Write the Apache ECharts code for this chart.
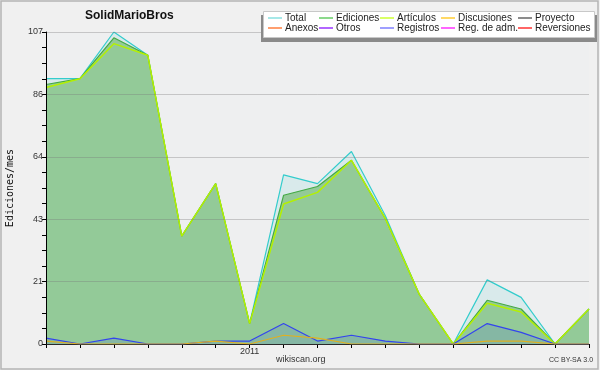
<!DOCTYPE html>
<html><head><meta charset="utf-8">
<script src="https://cdn.jsdelivr.net/npm/echarts@6/dist/echarts.min.js"></script>
<style>html,body{margin:0;padding:0;background:#f0f0f0}#c{width:600px;height:370px}</style>
</head><body><div id="c"></div>
<script>
const categories = ['2010-07','2010-08','2010-09','2010-10','2010-11','2010-12','2011-01','2011-02','2011-03','2011-04','2011-05','2011-06','2011-07','2011-08','2011-09','2011-10','2011-11'];
const total       = [91, 91, 107, 99, 37, 55, 7, 58, 55, 66, 44, 17, 0, 22, 16, 0, 12];
const ediciones   = [89, 91, 105, 99, 37, 55, 7, 51, 54, 63, 43, 17, 0, 15, 12, 0, 12];
const articulos   = [88, 91, 103, 99, 37, 55, 7, 48, 52, 63, 43, 17, 0, 14, 11, 0, 12];
const discusiones = [1, 0, 0, 0, 0, 1, 0, 3, 2, 0, 0, 0, 0, 1, 1, 0, 0];
const registros   = [2, 0, 2, 0, 0, 1, 1, 7, 1, 3, 1, 0, 0, 7, 4, 0, 0];
const yTickLabels = ['0', '21', '43', '64', '86', '107'];
const xTickLabels = {'2011-01': '2011'};
const legendRow1 = ['Total', 'Ediciones', 'Artículos', 'Discusiones', 'Proyecto'];
const legendRow2 = ['Anexos', 'Otros', 'Registros', 'Reg. de adm.', 'Reversiones'];
const yMax = 107;

const legendColors = {
  'Total': '#88e0e0', 'Ediciones': '#66cc66', 'Artículos': '#ccff33', 'Discusiones': '#ffcc33', 'Proyecto': '#666666',
  'Anexos': '#ff7f3f', 'Otros': '#9933ff', 'Registros': '#7f7fff', 'Reg. de adm.': '#ff33ff', 'Reversiones': '#ff3333'
};
const seriesData = {
  'Total': total, 'Ediciones': ediciones, 'Artículos': articulos, 'Discusiones': discusiones, 'Registros': registros
};
const lineColors = {
  'Total': '#33cccc', 'Ediciones': '#44aa44', 'Artículos': '#b4f000', 'Discusiones': '#e0b020', 'Registros': '#3344ee'
};
const areaColors = {
  'Total': 'rgba(51,204,204,0.11)', 'Ediciones': '#93ca98', 'Registros': 'rgba(51,68,238,0.14)'
};
const drawOrder = ['Total', 'Ediciones', 'Artículos', 'Registros', 'Discusiones', 'Proyecto', 'Anexos', 'Otros', 'Reg. de adm.', 'Reversiones'];

const FONT = 'Liberation Sans';
const series = drawOrder.map((name, i) => {
  const d = seriesData[name];
  const s = {
    name: name, type: 'line', data: d ? d : [], symbol: 'none', z: 2 + i * 0.01,
    itemStyle: {color: legendColors[name]},
    lineStyle: {color: lineColors[name] || legendColors[name], width: name === 'Artículos' ? 1.5 : 1.2},
    emphasis: {disabled: true}
  };
  if (areaColors[name]) s.areaStyle = {color: areaColors[name], opacity: 1};
  return s;
});

const colX = [268, 319, 380, 441, 518];
const legends = [];
[legendRow1, legendRow2].forEach((row, r) => {
  row.forEach((name, c) => {
    legends.push({
      data: [name], left: colX[c], top: r === 0 ? 13 : 23, padding: 0,
      itemWidth: 14, itemHeight: 1.5, icon: 'rect', selectedMode: false, z: 10,
      textStyle: {fontFamily: FONT, fontSize: 10, color: '#222', padding: [0, 0, 0, -2]}
    });
  });
});

const chart = echarts.init(document.getElementById('c'), null, {renderer: 'canvas'});
chart.setOption({
  animation: false,
  backgroundColor: '#f0f0f0',
  title: {text: 'SolidMarioBros', left: 85, top: 10, padding: 0,
    textStyle: {fontFamily: FONT, fontSize: 12, fontWeight: 'bold', color: '#111'}},
  legend: legends,
  grid: {left: 46, right: 11, top: 32, bottom: 26, containLabel: false, outerBoundsMode: 'none',
    show: true, backgroundColor: '#eeeff0', borderWidth: 0},
  xAxis: {
    type: 'category', data: categories, boundaryGap: false,
    axisLine: {lineStyle: {color: '#000', width: 1}},
    axisTick: {show: true, interval: 0, length: 4, lineStyle: {color: '#000'}},
    axisLabel: {interval: 0, margin: 3, fontFamily: FONT, fontSize: 9, color: '#333',
      formatter: v => xTickLabels[v] || ''},
    splitLine: {show: false}
  },
  yAxis: {
    type: 'value', min: 0, max: yMax, interval: yMax / 5, z: 3,
    name: 'Ediciones/mes', nameLocation: 'middle', nameGap: 31, nameRotate: 90,
    nameTextStyle: {fontFamily: 'DejaVu Sans Mono', fontSize: 10, color: '#111'},
    axisLine: {show: true, lineStyle: {color: '#000', width: 1}},
    axisTick: {show: true, length: 4, lineStyle: {color: '#000'}},
    minorTick: {show: true, splitNumber: 4, length: 4, lineStyle: {color: '#000'}},
    axisLabel: {margin: 3, fontFamily: FONT, fontSize: 9, color: '#333',
      formatter: v => yTickLabels[Math.round(v / (yMax / 5))]},
    splitLine: {show: true, lineStyle: {color: 'rgba(120,120,120,0.35)', width: 1}}
  },
  graphic: [
    {type: 'rect', z: 100, silent: true, shape: {x: 1, y: 1, width: 597, height: 368},
      style: {fill: 'none', stroke: '#b4b4b4', lineWidth: 1.5}},
    {type: 'rect', z: 5, silent: true, shape: {x: 261, y: 15, width: 336, height: 27}, style: {fill: '#8a8a8a'}},
    {type: 'rect', z: 6, silent: true, shape: {x: 263.5, y: 11.5, width: 331, height: 26},
      style: {fill: '#ffffff', stroke: '#c8c8c8', lineWidth: 1}},
    {type: 'text', z: 6, silent: true, left: 276, top: 355,
      style: {text: 'wikiscan.org', fontFamily: FONT, fontSize: 9, fill: '#333'}},
    {type: 'text', z: 6, silent: true, left: 549, top: 357,
      style: {text: 'CC BY-SA 3.0', fontFamily: FONT, fontSize: 7, fill: '#333'}}
  ],
  series: series
});
</script>
</body></html>
